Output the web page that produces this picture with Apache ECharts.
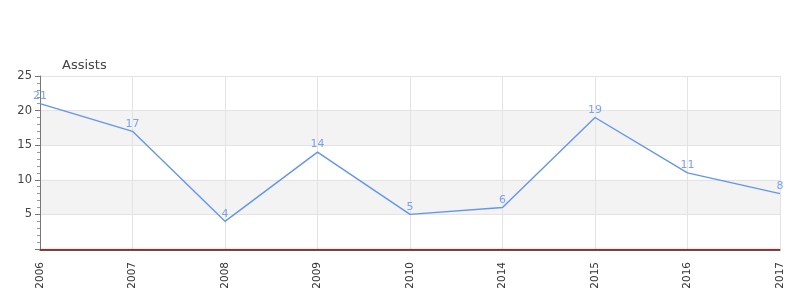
<!DOCTYPE html>
<html><head><meta charset="utf-8">
<script src="https://cdn.jsdelivr.net/npm/echarts@6/dist/echarts.min.js"></script>
<style>html,body{margin:0;padding:0;background:#fff}#c{width:800px;height:300px}</style>
</head><body><div id="c"></div>
<script>
const categories = ['2006','2007','2008','2009','2010','2014','2015','2016','2017'];
const assists = [21,17,4,14,5,6,19,11,8];
const seriesName = 'Assists';

const chart = echarts.init(document.getElementById('c'), null, {renderer:'canvas'});
chart.setOption({
  animation:false,
  grid:{left:40,right:20,top:76,bottom:51,containLabel:false},
  xAxis:[{
    type:'category', data:categories, boundaryGap:false,
    axisLine:{show:true,lineStyle:{color:'#ff0000',width:1}},
    axisTick:{show:false},
    axisLabel:{rotate:90,color:'#333',fontSize:10.5,fontFamily:'DejaVu Sans',margin:13},
    splitLine:{show:true,lineStyle:{color:'#e3e3e3'}}
  },{
    type:'category', data:categories, boundaryGap:false, position:'bottom', offset:1,
    axisLine:{show:true,lineStyle:{color:'#555',width:1}},
    axisTick:{show:false}, axisLabel:{show:false}, splitLine:{show:false}
  }],
  yAxis:{
    type:'value', min:0, max:25, interval:5,
    name:seriesName, nameLocation:'end', nameGap:4,
    nameTextStyle:{align:'left',padding:[0,0,0,22],color:'#444',fontSize:13,fontFamily:'DejaVu Sans'},
    axisLine:{show:true,lineStyle:{color:'#777'}},
    axisTick:{show:true,length:5,lineStyle:{color:'#777'}},
    minorTick:{show:true,splitNumber:5,length:3,lineStyle:{color:'#999'}},
    axisLabel:{showMinLabel:false,color:'#444',fontSize:11.5,fontFamily:'DejaVu Sans',margin:8},
    splitLine:{show:true,lineStyle:{color:'#e3e3e3'}},
    splitArea:{show:true,areaStyle:{color:['rgba(255,255,255,0)','#f3f3f3']}}
  },
  series:[{
    name:seriesName, type:'line', data:assists,
    symbol:'circle', symbolSize:0.1, showSymbol:true,
    lineStyle:{color:'#6495ED',width:1.4},
    itemStyle:{color:'#6495ED'},
    label:{show:true,position:'top',color:'#7ba2f0',fontSize:11,fontFamily:'DejaVu Sans',distance:2}
  }]
});
</script></body></html>
